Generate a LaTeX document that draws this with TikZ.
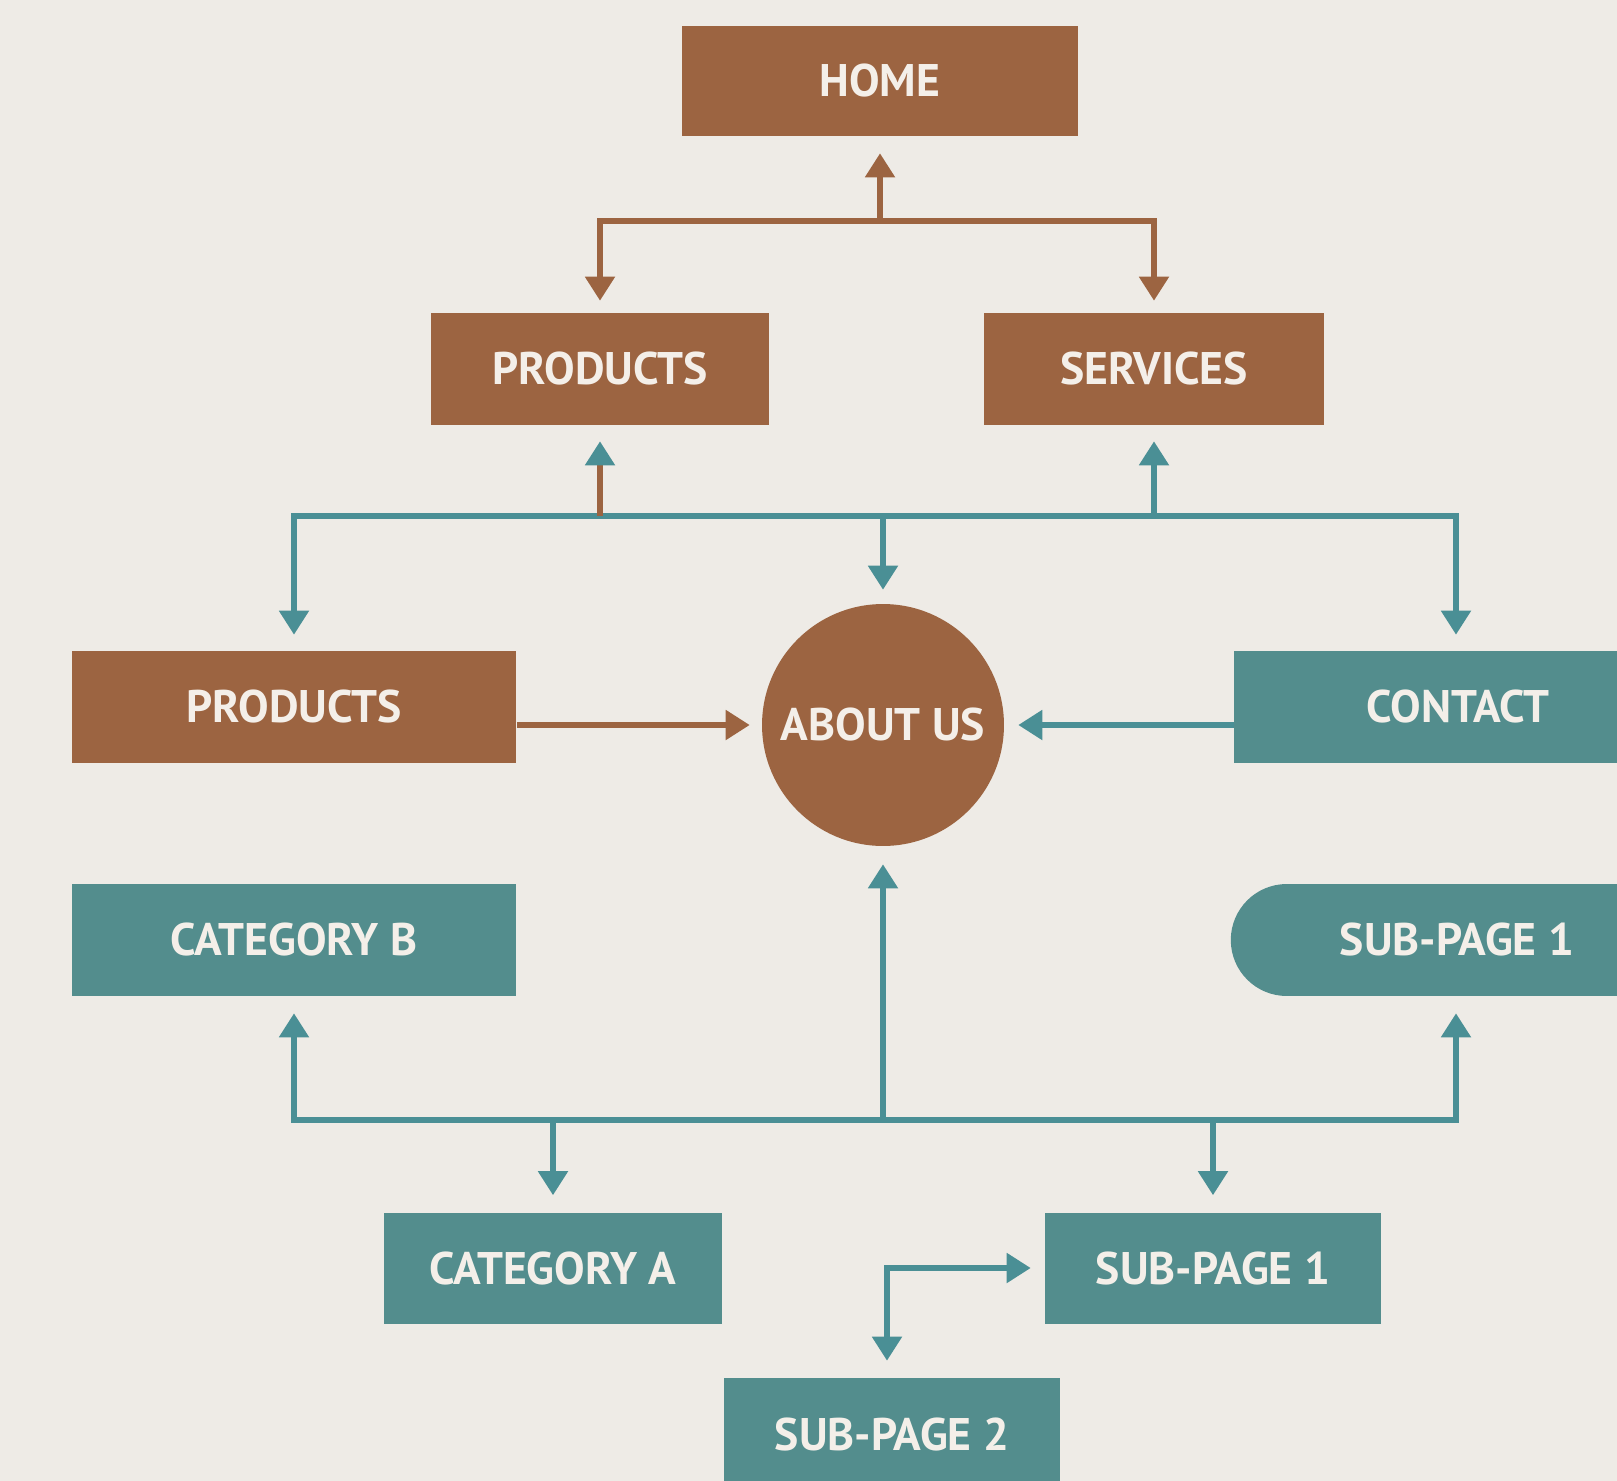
\documentclass[tikz,border=0pt]{standalone}
\usepackage{fontspec}
\setmainfont{PT Sans}
\usetikzlibrary{arrows.meta,shapes.misc}
\definecolor{bg}{HTML}{EEEBE6}
\definecolor{brn}{HTML}{9C6441}
\definecolor{tl}{HTML}{538D8D}
\definecolor{tline}{HTML}{4A8F95}
\definecolor{txt}{HTML}{F4EFE9}
\tikzset{
  box/.style={rectangle, minimum height=2.24cm, inner sep=0pt, text=txt,
    font=\fontsize{26}{28}\selectfont\bfseries},
  brownbox/.style={box, fill=brn},
  tealbox/.style={box, fill=tl},
  tip/.style={-{Triangle[width=0.58cm,length=0.48cm]}},
  twotip/.style={{Triangle[width=0.58cm,length=0.48cm]}-{Triangle[width=0.58cm,length=0.48cm]}},
  bline/.style={draw=brn, line width=3pt},
  tline/.style={draw=tline, line width=3pt},
}
\begin{document}
\begin{tikzpicture}[x=0.02cm,y=-0.02cm]
\fill[bg] (0,0) rectangle (1617,1481);
\useasboundingbox (0,0) rectangle (1617,1481);
\clip (0,0) rectangle (1617,1481);
% nodes
\node[brownbox, minimum width=7.92cm, minimum height=2.2cm] (home) at (880,81) {HOME};
\node[brownbox, minimum width=6.78cm] (prod1) at (600,369) {PRODUCTS};
\node[brownbox, minimum width=6.82cm] (serv) at (1154,369) {SERVICES};
\node[brownbox, minimum width=8.9cm] (prod2) at (294,707) {PRODUCTS};
\node[circle, fill=brn, minimum size=4.84cm, inner sep=0pt, text=txt,
  font=\fontsize{26}{28}\selectfont\bfseries] (about) at (883,725) {ABOUT US};
\node[tealbox, minimum width=8.96cm] (contact) at (1458,707) {CONTACT};
\node[tealbox, minimum width=8.9cm] (catb) at (294,940) {CATEGORY B};
\node[tealbox, rounded rectangle, rounded rectangle right arc=none,
  minimum width=9.0cm] (sub1r) at (1457,940) {SUB-PAGE 1};
\node[tealbox, minimum width=6.76cm, minimum height=2.22cm] (cata) at (553,1268) {CATEGORY A};
\node[tealbox, minimum width=6.72cm, minimum height=2.22cm] (sub1b) at (1213,1268) {SUB-PAGE 1};
\node[tealbox, minimum width=6.72cm] (sub2) at (892,1434) {SUB-PAGE 2};
% top brown connectors
\coordinate (tb) at (880,221);
\draw[bline, tip] (tb) -- ([yshift=-0.34cm]home.south);
\draw[bline, twotip]
  ([yshift=0.24cm]prod1.north) |- (tb) -| ([yshift=0.24cm]serv.north);
% teal middle bus
\coordinate (mb) at (883,516);
\draw[tline, twotip]
  ([yshift=0.32cm]prod2.north) |- (mb) -| ([xshift=-0.04cm,yshift=0.32cm]contact.north);
\draw[tline, tip] (mb) -- ([yshift=0.28cm]about.north);
\draw[draw=brn, line width=3pt] (prod1.south |- mb) -- ([yshift=-0.5cm]prod1.south);
\draw[draw=tline, line width=3pt, tip] ([yshift=-0.45cm]prod1.south) -- ([yshift=-0.32cm]prod1.south);
\draw[tline, tip] (serv.south |- mb) -- ([yshift=-0.32cm]serv.south);
% horizontal into circle
\draw[bline, tip] (prod2.east |- about.center) -- ([xshift=-0.24cm]about.west);
\draw[tline, tip] (contact.west |- about.center) -- ([xshift=0.28cm]about.east);
% bottom teal bus
\coordinate (lb) at (883,1120);
\draw[tline, twotip]
  ([yshift=-0.34cm]catb.south) |- (lb) -| ([xshift=-0.02cm,yshift=-0.34cm]sub1r.south);
\draw[tline, tip] (lb) -- ([yshift=-0.36cm]about.south);
\draw[tline, tip] (cata.north |- lb) -- ([yshift=0.34cm]cata.north);
\draw[tline, tip] (sub1b.north |- lb) -- ([yshift=0.34cm]sub1b.north);
% elbow between sub-pages
\draw[tline, twotip]
  ([xshift=-0.1cm,yshift=0.34cm]sub2.north) |- ([xshift=-0.28cm]sub1b.west);
\end{tikzpicture}
\end{document}
